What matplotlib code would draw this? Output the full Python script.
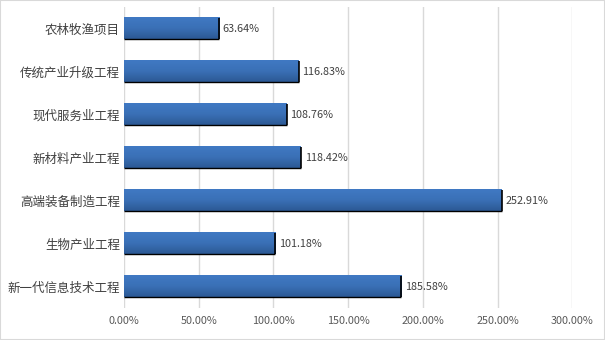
import matplotlib
matplotlib.use("Agg")
import matplotlib.pyplot as plt
import numpy as np
from matplotlib.colors import LinearSegmentedColormap
from matplotlib.patches import Rectangle

categories = ["新一代信息技术工程", "生物产业工程", "高端装备制造工程", "新材料产业工程",
              "现代服务业工程", "传统产业升级工程", "农林牧渔项目"]
values = [185.58, 101.18, 252.91, 118.42, 108.76, 116.83, 63.64]
x_ticks = [0, 50, 100, 150, 200, 250, 300]

plt.rcParams["font.family"] = ["Noto Sans CJK SC", "DejaVu Sans"]

fig = plt.figure(figsize=(6.05, 3.4), dpi=100)
fig.add_artist(Rectangle((0, 0), 1, 1, transform=fig.transFigure, fill=False,
                         edgecolor="#d9d9d9", linewidth=1.5))
ax = fig.add_axes([0.205, 0.094, 0.741, 0.885])

bar_h = 0.49
grad = LinearSegmentedColormap.from_list("bar", ["#2c5994", "#3a70b6", "#4079c3"])
gradient = np.linspace(0, 1, 64).reshape(-1, 1)

for i, v in enumerate(values):
    y0, y1 = i - bar_h / 2, i + bar_h / 2
    ax.imshow(gradient, cmap=grad, origin="lower", aspect="auto",
              extent=[0, v, y0, y1], zorder=3, interpolation="bicubic")
    # dark edge along the right and bottom of each bar
    ax.plot([v, v], [y0, y1], color="black", linewidth=1.2, zorder=4,
            solid_capstyle="butt")
    ax.plot([0, v], [y0, y0], color="black", linewidth=1.0, zorder=4,
            solid_capstyle="butt")
    ax.text(v + 2.5, i, f"{v:.2f}%", va="center", ha="left", fontsize=7.8,
            color="#404040", zorder=5)

ax.set_xlim(0, 300)
ax.set_ylim(-0.5, len(values) - 0.5)
ax.set_xticks(x_ticks)
ax.set_xticklabels([f"{t:.2f}%" for t in x_ticks])
ax.set_yticks(range(len(categories)))
ax.set_yticklabels(categories)
ax.tick_params(axis="x", length=0, labelsize=7.8, labelcolor="#595959", pad=6)
ax.tick_params(axis="y", length=0, labelsize=9, labelcolor="#404040", pad=3)
ax.grid(axis="x", color="#d9d9d9", linewidth=1)
ax.set_axisbelow(True)
for s in ax.spines.values():
    s.set_visible(False)

fig.savefig("out.png", dpi=100)
